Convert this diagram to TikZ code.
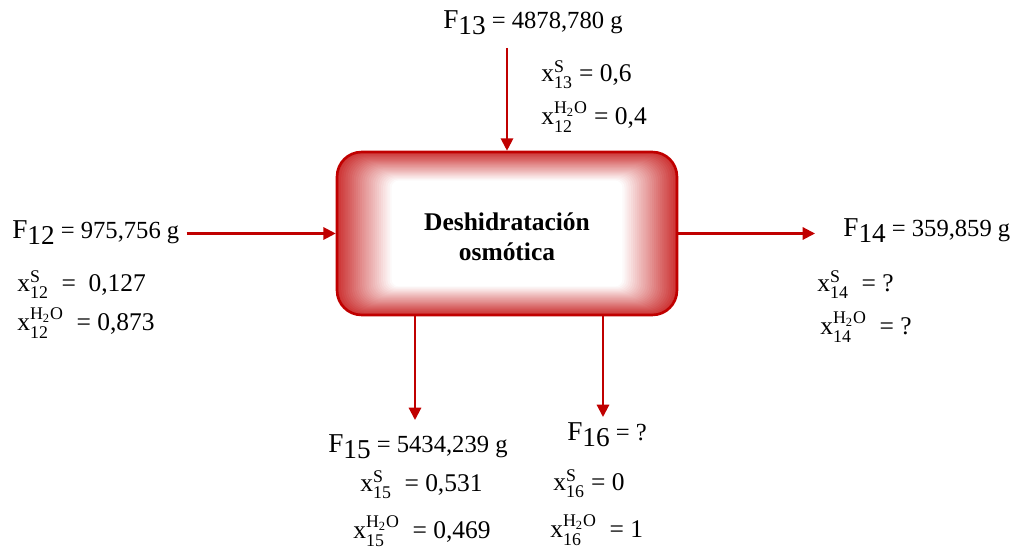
\documentclass[tikz,border=0pt]{standalone}
\usepackage{amsmath}
\usepackage{fontspec}
\setmainfont{Liberation Serif}
\usetikzlibrary{arrows.meta,positioning}
\definecolor{boxred}{RGB}{192,0,0}
\newcommand{\flujo}[1]{{\fontsize{15.5}{17}\selectfont F\raisebox{-3.4pt}{#1}}}
\newcommand{\frmas}[2]{$\text{x}^{\text{#1}}_{\text{#2}}$}
\tikzset{
  flow/.style={draw=boxred, line width=1.2pt, -{Triangle[length=7pt,width=7pt]}},
  lbl/.style={inner sep=0pt, anchor=base west, font=\fontsize{14}{16}\selectfont},
  frac/.style={inner sep=0pt, anchor=base west, font=\fontsize{14.5}{16}\selectfont},
}

\begin{document}
\begin{tikzpicture}[x=0.02cm,y=-0.02cm]
        \useasboundingbox (0,0) rectangle (1019,550);

        %degradado del equipo
        \foreach \i in {0,...,26}{
          \pgfmathsetmacro\pct{max(0,80-3.1*\i)}
          \pgfmathsetmacro\rad{max(4,14-0.38*\i)}
          \fill[boxred!\pct!white, rounded corners=\rad pt] (337+2.1*\i,152+1.1*\i) rectangle (677-2.1*\i,315-1.1*\i);
        }
        \node[draw=boxred, line width=1.5pt, rounded corners=14pt, minimum width=6.8cm, minimum height=3.26cm] (box) at (507,233.5) {};
        \node[align=center, font=\fontsize{14.5}{17}\selectfont\bfseries] (nombre) at (507,236.5) {Deshidrataci\'on\\osm\'otica};

        %corriente 13 (entrada superior)
        \node[lbl] (f13) at (443,29) {\flujo{13} = 4878,780 g};
        \coordinate (in13) at (507,48);
        \draw[flow] (in13) -- (box.north);
        \node[frac] (x13s) at (541,82) {\frmas{S}{13}\ = 0,6};
        \node[frac] (x13w) at (541,125) {\frmas{H\textsubscript{2}O}{12}\ = 0,4};

        %corriente 12 (entrada izquierda)
        \node[lbl] (f12) at (12,239) {\flujo{12} = 975,756 g};
        \draw[flow] ([xshift=4pt]f12.east |- box.west) -- (box.west);
        \node[frac] (x12s) at (17,292) {\frmas{S}{12}\ \ = \ 0,127};
        \node[frac] (x12w) at (17,331) {\frmas{H\textsubscript{2}O}{12}\ \ = 0,873};

        %corriente 14 (salida derecha)
        \coordinate (out14) at (815,233.5);
        \draw[flow] (box.east) -- (out14);
        \node[lbl] (f14) at (843,237) {\flujo{14} = 359,859 g};
        \node[frac] (x14s) at (817,292) {\frmas{S}{14}\ \ = ?};
        \node[frac] (x14w) at (820,335) {\frmas{H\textsubscript{2}O}{14}\ \ = ?};

        %corriente 15 (salida inferior)
        \coordinate (out15) at (415,420);
        \draw[flow] (box.south -| out15) -- (out15);
        \node[lbl] (f15) at (328,453) {\flujo{15} = 5434,239 g};
        \node[frac] (x15s) at (360,492) {\frmas{S}{15}\ \ = 0,531};
        \node[frac] (x15w) at (353,539) {\frmas{H\textsubscript{2}O}{15}\ \ = 0,469};

        %corriente 16 (agua)
        \coordinate (out16) at (603,417);
        \draw[flow] (box.south -| out16) -- (out16);
        \node[lbl] (f16) at (567,441) {\flujo{16} = ?};
        \node[frac] (x16s) at (553,491) {\frmas{S}{16} = 0};
        \node[frac] (x16w) at (550,538) {\frmas{H\textsubscript{2}O}{16}\ \ = 1};
\end{tikzpicture}
\end{document}
